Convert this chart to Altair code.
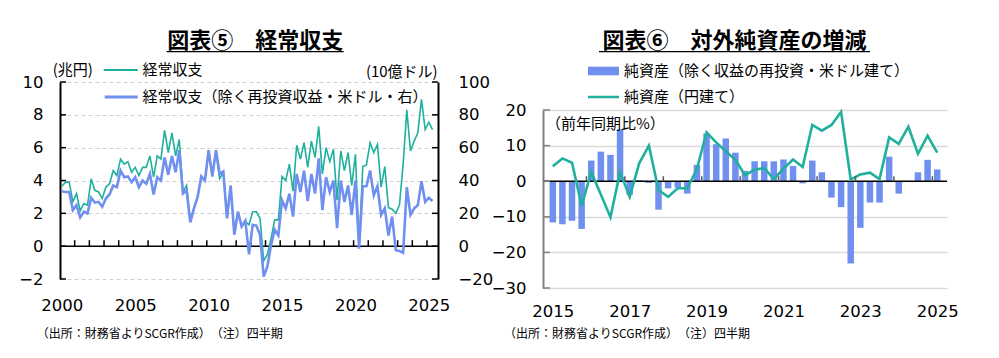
import altair as alt
import pandas as pd

JP = "Noto Sans CJK JP"
NUM = "DejaVu Sans"
TEAL = "#1fb09e"
BLUE = "#7090f0"

# ---------------- 図表⑤ 経常収支 (quarterly, 2000Q1 - 2025Q2) ----------------
q5 = list(range(102))
ca_jpy = [3.65, 3.9, 3.9, 2.7, 3.2, 2.15, 2.6, 2.5, 4.1, 3.4,
          3.3, 2.9, 3.6, 3.8, 4.6, 4.3, 5.3, 5.0, 5.15, 4.5,
          4.8, 4.3, 4.8, 4.8, 5.5, 4.2, 5.5, 5.3, 7.05, 5.7,
          6.9, 5.5, 6.5, 3.3, 3.7, 1.5, 2.35, 3.0, 4.2, 4.0,
          5.8, 4.25, 5.8, 4.1, 4.5, 1.7, 3.6, 0.75, 2.1, 1.2,
          1.5, 1.3, 2.1, 2.1, 1.7, -0.9, -0.5, 0.45, 1.6, 1.6,
          4.25, 4.0, 5.0, 3.35, 6.15, 5.3, 6.3, 4.8, 6.4, 5.4,
          7.3, 4.4, 6.0, 5.15, 5.9, 2.8, 5.8, 4.6, 5.7, 3.7,
          5.6, 0.0, 4.85, 4.95, 6.3, 5.7, 6.2, 3.6, 4.85, 2.35,
          2.25, 2.0, 2.5, 5.0, 8.3, 5.8, 6.4, 6.9, 8.95, 7.1,
          7.55, 7.1]
ca_usd_ex = [33.5, 33, 33, 22, 25, 17.5, 21, 20, 29.5, 26.5,
             27, 24, 29, 31.5, 37, 36, 46, 42, 42.5, 39,
             42, 36, 40, 38, 44, 31.5, 42, 40, 54, 43.5,
             55, 45, 58.5, 32, 34, 14.5, 23, 30, 42.5, 40,
             58.5, 42.5, 58.5, 44, 45.5, 17, 37, 7, 21, 12,
             15.5, -5, 13, 12.5, 7, -18.5, -12.5, 0.5, 10, 6.5,
             28, 23, 32, 18, 44, 33, 46, 27.5, 44, 32,
             53.5, 22, 42, 33, 40, 11, 40, 27, 37, 19,
             40, -1.5, 36.5, 36.5, 46, 31, 36.5, 19, 23, 6.5,
             18, -2.5, -3, -4, 36, 19, 23, 25, 39.5, 27,
             29.5, 27.5]
year_labels_5 = [0, 20, 40, 60, 80, 100]
year_bounds_5 = [3.5 + 4 * k for k in range(25)]
left_ticks = [-2, 0, 2, 4, 6, 8, 10]
right_ticks = [-20, 0, 20, 40, 60, 80, 100]

# ---------------- 図表⑥ 対外純資産の増減 (quarterly, 2015Q1 - 2025Q1) ----------------
q6 = list(range(41))
nfa_usd = [-11.6, -12.1, -11.1, -13.4, 5.8, 8.3, 7.4, 14.6,
           -3.8, 0.3, -0.5, -8.0, -2.0, -1.8, -3.5, 4.6,
           13.4, 10.4, 12.0, 8.0, 2.9, 5.6, 5.6, 5.6,
           6.1, 4.3, -0.6, 5.8, 2.5, -4.6, -7.3, -23.1,
           -13.1, -6.0, -6.0, 6.9, -3.5, None, 2.5, 6.0, 3.3]
nfa_jpy = [4.2, 6.4, 5.2, -6.9, 2.6, -3.75, -10.1, 2.6,
           -4.4, 5.1, 10.0, -2.5, -4.4, -2.0, -2.0, 3.5,
           13.7, 10.9, 8.4, 6.0, 1.7, 3.2, 3.7, 0.6,
           3.5, 6.1, 4.0, 15.8, 14.2, 15.8, 19.5, 0.5,
           1.9, 2.4, 0.6, 12.3, 10.5, 15.3, 7.7, 12.8, 8.0]
year_labels_6 = [0, 8, 16, 24, 32, 40]
year_bounds_6 = [3.5 + 4 * k for k in range(10)]
pct_ticks = [-30, -20, -10, 0, 10, 20]

one = pd.DataFrame({"k": [0]})


def text(txt, x, y, size=15, align="left", weight="normal"):
    return alt.Chart(one).mark_text(
        text=txt, font=JP, fontSize=size, fontWeight=weight, align=align,
        baseline="middle", color="#000"
    ).encode(x=alt.value(x), y=alt.value(y))


def hline(x1, x2, y, color, width):
    return alt.Chart(one).mark_rule(color=color, strokeWidth=width).encode(
        x=alt.value(x1), x2=alt.value(x2), y=alt.value(y))


# ======================= left panel =======================
WL, HL = 378, 197
df5 = pd.DataFrame({"q": q5, "jpy": ca_jpy, "usd": ca_usd_ex})
xs5 = alt.Scale(domain=[-0.5, 102.5], nice=False, zero=False)
ysL = alt.Scale(domain=[-2, 10], nice=False, zero=False)
ysR = alt.Scale(domain=[-20, 100], nice=False, zero=False)
zero5 = HL * 10 / 12

axX5 = alt.Axis(values=year_labels_5, labelExpr="toString(2000 + datum.value / 4)",
                domain=False, ticks=False, grid=False, labelPadding=26,
                labelBaseline="middle", labelFlush=False, title=None)
axYL = alt.Axis(values=left_ticks, orient="left", domain=True, domainColor="#000",
                domainWidth=2, ticks=False, grid=True, gridDash=[4, 3],
                gridColor="#d0d0d0", gridWidth=1.2, labelPadding=17, title=None)
axYR = alt.Axis(values=right_ticks, orient="right", domain=True, domainColor="#000",
                domainWidth=2, ticks=False, grid=False, labelPadding=20, title=None)

teal5 = alt.Chart(df5).mark_line(color=TEAL, strokeWidth=1.6).encode(
    x=alt.X("q:Q", scale=xs5, axis=axX5, title=None),
    y=alt.Y("jpy:Q", scale=ysL, axis=axYL, title=None),
)
zero_line5 = alt.Chart(pd.DataFrame({"z": [0]})).mark_rule(color="#000", strokeWidth=1.5).encode(
    y=alt.Y("z:Q", scale=ysL, axis=axYL, title=None))
xticks5 = alt.Chart(pd.DataFrame({"b": year_bounds_5})).mark_rule(color="#000", strokeWidth=1.5).encode(
    x=alt.X("b:Q", scale=xs5, axis=axX5, title=None), y=alt.value(zero5), y2=alt.value(zero5 - 6))
lticks5 = alt.Chart(pd.DataFrame({"v": left_ticks})).mark_rule(color="#000", strokeWidth=1.5).encode(
    y=alt.Y("v:Q", scale=ysL, axis=axYL, title=None), x=alt.value(0), x2=alt.value(6))

left_shared = alt.layer(
    zero_line5, teal5, xticks5, lticks5,
    text("図表⑤　経常収支", 195.2, -41, size=22, align="center", weight="bold"),
    hline(106.7, 283.7, -30.4, "#000", 1.3),
    text("(兆円)", -7.3, -12),
    hline(43.7, 77.7, -12, TEAL, 2),
    text("経常収支", 82.4, -12),
    text("(10億ドル)", 377.7, -10, align="right"),
    hline(44.7, 77.7, 15, BLUE, 3),
    text("経常収支（除く再投資収益・米ドル・右）", 82.4, 15),
    text("（出所：財務省よりSCGR作成）　（注）四半期", -23.3, 252, size=12),
)

blue5 = alt.Chart(df5).mark_line(color=BLUE, strokeWidth=2.6).encode(
    x=alt.X("q:Q", scale=xs5, axis=axX5, title=None),
    y=alt.Y("usd:Q", scale=ysR, axis=axYR, title=None),
)
rticks5 = alt.Chart(pd.DataFrame({"v": right_ticks})).mark_rule(color="#000", strokeWidth=1.5).encode(
    y=alt.Y("v:Q", scale=ysR, axis=axYR, title=None), x=alt.value(WL - 6), x2=alt.value(WL))

left_panel = alt.layer(left_shared, alt.layer(blue5, rticks5)).resolve_scale(
    y="independent").properties(width=WL, height=HL)

# ======================= right panel =======================
# plot area starts 28px lower than the left one: the panel is taller and the
# y range leaves that band empty so both titles line up.
TOP6 = 28
WR, HR = 404, 178 + TOP6
df6 = pd.DataFrame({"q": q6, "usd": nfa_usd, "jpy": nfa_jpy})
xs6 = alt.Scale(domain=[-0.5, 40.5], nice=False, zero=False)
ys6 = alt.Scale(domain=[-30, 20], nice=False, zero=False, range=[HR, TOP6])
zero6 = TOP6 + 178 * 20 / 50

axX6 = alt.Axis(values=year_labels_6, labelExpr="toString(2015 + datum.value / 4)",
                domain=False, ticks=False, grid=False, labelPadding=23.7,
                labelBaseline="middle", labelFlush=False, title=None)
axY6 = alt.Axis(values=pct_ticks, orient="left", domain=True, domainColor="#808080",
                domainWidth=2, ticks=False, grid=True, gridColor="#dadada",
                gridWidth=1.5, labelPadding=17, title=None)

bars6 = alt.Chart(df6).mark_bar(color=BLUE, size=6.5).encode(
    x=alt.X("q:Q", scale=xs6, axis=axX6, title=None),
    y=alt.Y("usd:Q", scale=ys6, axis=axY6, title=None),
)
zero_line6 = alt.Chart(pd.DataFrame({"z": [0]})).mark_rule(color="#000", strokeWidth=1.5).encode(
    y=alt.Y("z:Q", scale=ys6, axis=axY6, title=None))
line6 = alt.Chart(df6).mark_line(color=TEAL, strokeWidth=2.6).encode(
    x=alt.X("q:Q", scale=xs6, axis=axX6, title=None),
    y=alt.Y("jpy:Q", scale=ys6, axis=axY6, title=None))
xticks6 = alt.Chart(pd.DataFrame({"b": year_bounds_6})).mark_rule(color="#595959", strokeWidth=1.5).encode(
    x=alt.X("b:Q", scale=xs6, axis=axX6, title=None), y=alt.value(zero6), y2=alt.value(zero6 - 5))
yticks6 = alt.Chart(pd.DataFrame({"v": pct_ticks})).mark_rule(color="#808080", strokeWidth=1.5).encode(
    y=alt.Y("v:Q", scale=ys6, axis=axY6, title=None), x=alt.value(0), x2=alt.value(7))
swatch6 = alt.Chart(one).mark_rect(color=BLUE).encode(
    x=alt.value(45), x2=alt.value(76), y=alt.value(-15.3), y2=alt.value(-6.7))

right_panel = alt.layer(
    bars6, zero_line6, line6, xticks6, yticks6,
    text("図表⑥　対外純資産の増減", 191.5, -41, size=22, align="center", weight="bold"),
    hline(56, 327, -30.3, "#000", 1.3),
    swatch6,
    text("純資産（除く収益の再投資・米ドル建て）", 81, -11.3),
    hline(45, 76, 15, TEAL, 2.5),
    text("純資産（円建て）", 81, 15.3),
    text("（前年同期比%）", 3, 42),
    text("（出所：財務省よりSCGR作成）　（注）四半期", -39, 252, size=12),
).properties(width=WR, height=HR)

chart = alt.hconcat(left_panel, right_panel, spacing=-2).properties(
    padding={"left": 10, "top": 22, "right": 5, "bottom": 5},
    background="white",
).configure_view(stroke=None).configure_axis(
    labelFont=NUM, labelFontSize=16.5, labelColor="#000"
)

chart.save("out.html", embed_options={"renderer": "svg", "actions": False})
